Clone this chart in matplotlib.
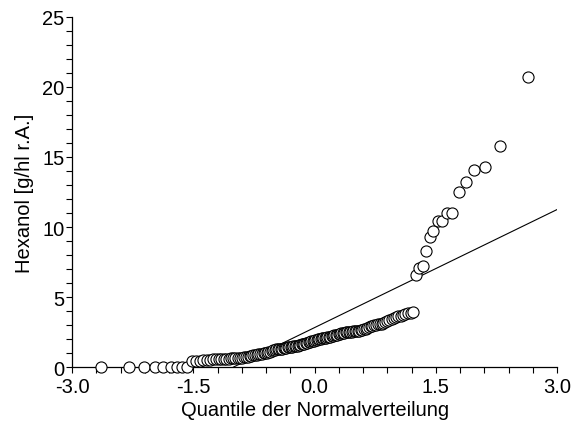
import matplotlib
matplotlib.use("Agg")
import matplotlib.pyplot as plt
from matplotlib.ticker import MultipleLocator, FormatStrFormatter
from statistics import NormalDist

plt.rcParams['font.family'] = ['Liberation Sans', 'DejaVu Sans']
plt.rcParams['axes.unicode_minus'] = False

# Sorted observed values (g/hl r.A.)
zero_values = [0.0] * 9
middle_values = [
    0.40, 0.42, 0.45, 0.48, 0.50, 0.52, 0.55, 0.56, 0.57, 0.58,
    0.60, 0.60, 0.61, 0.62, 0.63, 0.64, 0.65, 0.66, 0.68, 0.70,
    0.72, 0.74, 0.77, 0.80, 0.83, 0.86, 0.88, 0.90, 0.93, 0.96,
    0.98, 1.00, 1.03, 1.07, 1.10, 1.15, 1.20, 1.24, 1.26, 1.28,
    1.30, 1.31, 1.32, 1.34, 1.35, 1.37, 1.40, 1.42, 1.44, 1.46,
    1.48, 1.50, 1.52, 1.54, 1.57, 1.59, 1.62, 1.65, 1.68, 1.71,
    1.75, 1.78, 1.81, 1.84, 1.87, 1.89, 1.91, 1.94, 1.97, 2.00,
    2.03, 2.05, 2.07, 2.09, 2.11, 2.13, 2.16, 2.18, 2.21, 2.23,
    2.26, 2.28, 2.31, 2.34, 2.37, 2.40, 2.42, 2.45, 2.47, 2.49,
    2.51, 2.52, 2.53, 2.54, 2.55, 2.56, 2.58, 2.60, 2.63, 2.67,
    2.71, 2.75, 2.80, 2.86, 2.90, 2.94, 2.98, 3.01, 3.04, 3.06,
    3.08, 3.13, 3.20, 3.28, 3.35, 3.40, 3.48, 3.56, 3.62, 3.68,
    3.73, 3.78, 3.83, 3.87, 3.92,
]
upper_values = [6.55, 7.10, 7.20, 8.26, 9.26, 9.70, 10.40, 10.45,
                11.00, 11.00, 12.50, 13.20, 14.10, 14.30, 15.80, 20.70]

values = sorted(zero_values + middle_values + upper_values)
n = len(values)
# Blom plotting positions -> theoretical normal quantiles
nd = NormalDist()
quantiles = [nd.inv_cdf((i + 1 - 0.375) / (n + 0.25)) for i in range(n)]

# Reference line (mean + sd * z)
line_intercept = 2.82
line_slope = 2.81

x_ticks = [-3.0, -1.5, 0.0, 1.5, 3.0]
y_ticks = [0, 5, 10, 15, 20, 25]

fig = plt.figure(figsize=(5.72, 4.27), dpi=100)
ax = fig.add_axes([0.126, 0.138, 0.848, 0.82])

ax.axline((0, line_intercept), slope=line_slope, color='black', lw=0.8, zorder=2)
ax.plot(quantiles, values, linestyle='none', marker='o', markersize=8,
        markerfacecolor='white', markeredgecolor='black', markeredgewidth=0.8,
        zorder=3, clip_on=False)

ax.set_xlim(-3.0, 3.0)
ax.set_ylim(0, 25)
ax.set_xticks(x_ticks)
ax.set_yticks(y_ticks)
ax.xaxis.set_major_formatter(FormatStrFormatter('%.1f'))
ax.xaxis.set_minor_locator(MultipleLocator(0.3))
ax.yaxis.set_minor_locator(MultipleLocator(1))
ax.tick_params(which='both', direction='out', length=4, width=0.8,
               labelsize=14.5, colors='black')
ax.tick_params(axis='x', pad=3)
ax.tick_params(axis='y', pad=1.5)

for side in ['top', 'right']:
    ax.spines[side].set_visible(False)
for side in ['left', 'bottom']:
    ax.spines[side].set_linewidth(0.9)

ax.set_xlabel('Quantile der Normalverteilung', fontsize=14.5, labelpad=3)
ax.set_ylabel('Hexanol [g/hl r.A.]', fontsize=14.5, labelpad=6)

fig.savefig('out.png', dpi=100)
